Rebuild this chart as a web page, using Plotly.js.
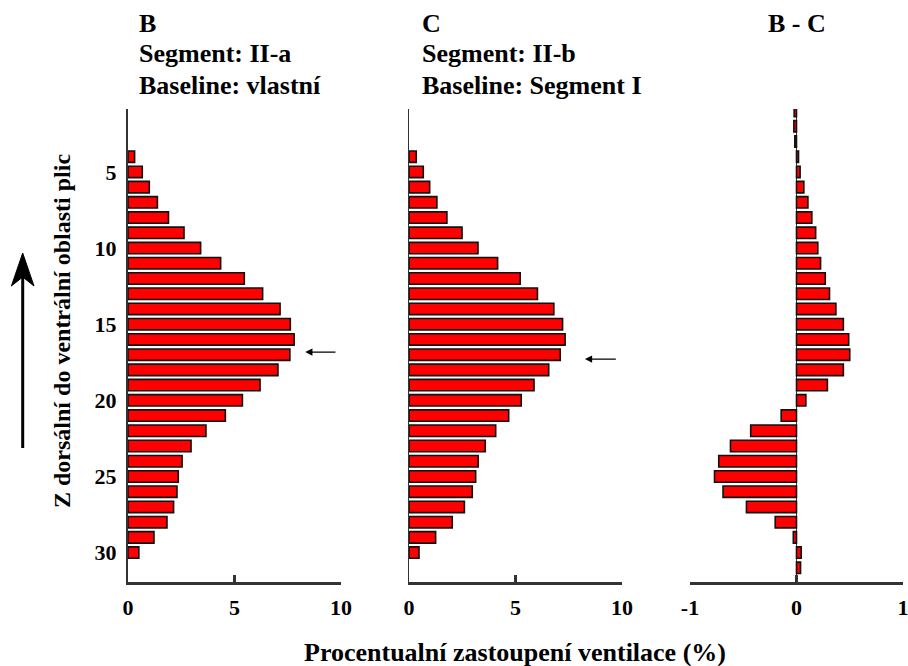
<!DOCTYPE html>
<html>
<head>
<meta charset="utf-8">
<script src="https://cdn.plot.ly/plotly-3.0.1.min.js"></script>
<style>
  html, body { margin: 0; padding: 0; background: #fff; }
  #chart { width: 908px; height: 666px; }
</style>
</head>
<body>
<div id="chart"></div>
<script>
// Lung rows (1 = ventral top, 32 = dorsal bottom)
const rowsBC = [4,5,6,7,8,9,10,11,12,13,14,15,16,17,18,19,20,21,22,23,24,25,26,27,28,29,30];
const rowsDiff = [1,2,3,4,5,6,7,8,9,10,11,12,13,14,15,16,17,18,19,20,21,22,23,24,25,26,27,28,29,30,31];

// Ventilation share (%) per row
const segIIa = [0.31,0.67,1.0,1.38,1.90,2.63,3.41,4.35,5.46,6.32,7.14,7.62,7.80,7.60,7.04,6.20,5.37,4.57,3.66,2.96,2.54,2.36,2.30,2.14,1.83,1.22,0.51];
const segIIb = [0.34,0.67,0.97,1.31,1.78,2.49,3.24,4.16,5.22,6.03,6.80,7.21,7.33,7.10,6.56,5.87,5.27,4.68,4.07,3.58,3.25,3.13,2.97,2.60,2.03,1.25,0.47];
const diffBC = [-0.022,-0.025,-0.016,0.019,0.034,0.069,0.107,0.144,0.18,0.20,0.226,0.27,0.31,0.37,0.44,0.49,0.50,0.44,0.29,0.088,-0.144,-0.43,-0.62,-0.73,-0.77,-0.69,-0.47,-0.20,-0.03,0.044,0.038];

const yTickVals = [5,10,15,20,25,30];
const yTickText = ['5','10','15','20','25','30'];
const xTickVals = [0,5,10];
const xTickText = ['0','5','10'];
const dTickVals = [-1,0,1];
const dTickText = ['-1','0','1'];

const W = 908, H = 666;
const px = v => v / W;
const py = v => 1 - v / H;

const FONT = 'Liberation Serif';
const INK = '#000';
const AX = '#333';

const barStyle = {
  type: 'bar', orientation: 'h', width: 0.75,
  marker: { color: '#ff0000', line: { color: '#111', width: 1.6 } },
  hoverinfo: 'x+y'
};

const data = [
  Object.assign({}, barStyle, { x: segIIa, y: rowsBC, xaxis: 'x', yaxis: 'y' }),
  Object.assign({}, barStyle, { x: segIIb, y: rowsBC, xaxis: 'x2', yaxis: 'y2' }),
  Object.assign({}, barStyle, { x: diffBC, y: rowsDiff, xaxis: 'x3', yaxis: 'y3' })
];

const yDomain = [py(582), py(109)];
const yRange = [31.93, 0.87];
const tickFont = { family: FONT, size: 22, color: INK, weight: 700 };

function xAxis(dom, anchor, range, vals, text) {
  return {
    domain: dom, anchor: anchor, range: range,
    showline: true, linewidth: 2.5, linecolor: AX,
    ticks: 'inside', ticklen: 7, tickwidth: 2.5, tickcolor: AX,
    tickvals: vals, ticktext: text, tickfont: tickFont,
    ticklabelstandoff: 4, ticklabeloverflow: 'allow',
    showgrid: false, zeroline: false, fixedrange: true
  };
}
function yAxis(anchor, extra) {
  return Object.assign({
    domain: yDomain, anchor: anchor, range: yRange,
    showgrid: false, zeroline: false, ticks: '',
    showticklabels: false, fixedrange: true
  }, extra);
}

const xa3 = xAxis([px(690), px(903)], 'y3', [-1, 1], dTickVals, dTickText);
xa3.zeroline = true; xa3.zerolinecolor = AX; xa3.zerolinewidth = 1.2;

const titleFont = { family: FONT, size: 26, color: INK, weight: 700 };
function label(text, x, y, extra) {
  return Object.assign({
    text: text, xref: 'paper', yref: 'paper', x: px(x), y: py(y),
    xanchor: 'left', yanchor: 'middle', showarrow: false, font: titleFont
  }, extra || {});
}

const layout = {
  width: W, height: H,
  margin: { l: 0, r: 0, t: 0, b: 0 },
  paper_bgcolor: '#fff', plot_bgcolor: 'rgba(0,0,0,0)',
  font: { family: FONT },
  showlegend: false, bargap: 0,
  xaxis: xAxis([px(128), px(341)], 'y', [0, 10], xTickVals, xTickText),
  xaxis2: xAxis([px(409), px(622)], 'y2', [0, 10], xTickVals, xTickText),
  xaxis3: xa3,
  yaxis: yAxis('x', {
    showline: true, linewidth: 2, linecolor: AX,
    showticklabels: true, tickvals: yTickVals, ticktext: yTickText,
    tickfont: tickFont, ticklabelstandoff: 5
  }),
  yaxis2: yAxis('x2', { showline: true, linewidth: 1, linecolor: AX }),
  yaxis3: yAxis('x3', { showline: false }),
  annotations: [
    label('B', 137, 24),
    label('Segment: II-a', 137, 53),
    label('Baseline: vlastní', 137, 86),
    label('C', 420, 24),
    label('Segment: II-b', 420, 53),
    label('Baseline: Segment I', 420, 86),
    label('B - C', 797, 24, { xanchor: 'center' }),
    label('Procentualní zastoupení ventilace (%)', 515, 652, { xanchor: 'center' }),
    label('Z dorsální do ventrální oblasti plic', 62, 331,
          { xanchor: 'center', textangle: -90, font: Object.assign({}, titleFont, { size: 24 }) }),
    // peak markers
    { xref: 'x', yref: 'y', axref: 'x', ayref: 'y', x: 8.32, y: 16.83, ax: 9.81, ay: 16.83,
      text: '', showarrow: true, arrowhead: 2, arrowsize: 1.2, arrowwidth: 1.2, arrowcolor: INK },
    { xref: 'x2', yref: 'y2', axref: 'x2', ayref: 'y2', x: 8.26, y: 17.29, ax: 9.78, ay: 17.29,
      text: '', showarrow: true, arrowhead: 2, arrowsize: 1.2, arrowwidth: 1.2, arrowcolor: INK }
  ],
  shapes: [
    // direction arrow next to the row axis
    { type: 'line', xref: 'paper', yref: 'paper', x0: px(22.7), x1: px(22.7), y0: py(448), y1: py(270),
      line: { color: INK, width: 3 } },
    { type: 'path', xref: 'paper', yref: 'paper',
      path: 'M ' + px(22.7) + ' ' + py(253) + ' L ' + px(34) + ' ' + py(286) +
            ' L ' + px(22.7) + ' ' + py(277) + ' L ' + px(11.4) + ' ' + py(286) + ' Z',
      fillcolor: INK, line: { color: INK, width: 1 } }
  ]
};

Plotly.newPlot('chart', data, layout, { displayModeBar: false, staticPlot: true });
</script>
</body>
</html>
